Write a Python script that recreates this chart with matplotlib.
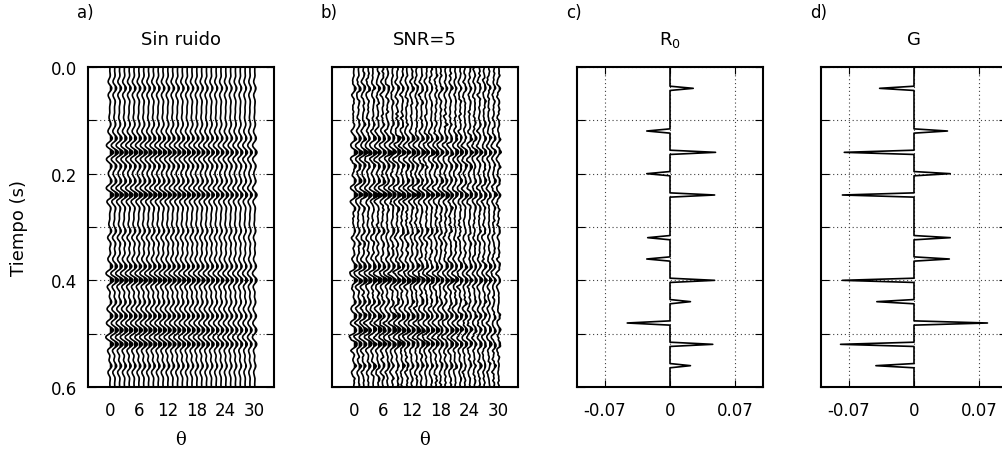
import numpy as np
import matplotlib
matplotlib.use("Agg")
import matplotlib.pyplot as plt

plt.rcParams['font.family'] = ['DejaVu Sans']
plt.rcParams['mathtext.fontset'] = 'dejavusans'

# sampling and angles
dt = 0.004
dt_fine = 0.001
t_max = 0.6
angles = np.arange(0, 31)  # degrees, one trace per degree

# reflectivity spikes read from panels c) and d)
spike_times = [0.04, 0.12, 0.16, 0.20, 0.24, 0.32, 0.36, 0.40, 0.44, 0.48, 0.52, 0.56]
r0_values = [0.025, -0.025, 0.049, -0.025, 0.048, -0.024, -0.025, 0.048, 0.022, -0.046, 0.046, 0.022]
g_values = [-0.037, 0.036, -0.075, 0.039, -0.077, 0.039, 0.038, -0.077, -0.040, 0.079, -0.079, -0.041]

angle_ticks = [0, 6, 12, 18, 24, 30]
time_ticks = [0.0, 0.1, 0.2, 0.3, 0.4, 0.5, 0.6]
time_labels = ['0.0', '', '0.2', '', '0.4', '', '0.6']
refl_ticks = [-0.07, 0, 0.07]
refl_labels = ['-0.07', '0', '0.07']
snr = 5


def spikes(values, step):
    tt = np.arange(0, t_max + step / 2, step)
    out = np.zeros_like(tt)
    for ts, v in zip(spike_times, values):
        out[int(round(ts / step))] = v
    return tt, out


t, r0 = spikes(r0_values, dt)
_, g = spikes(g_values, dt)
tf, r0f = spikes(r0_values, dt_fine)
_, gf = spikes(g_values, dt_fine)


# two-term AVO gather, convolved with a band-pass (Ormsby) wavelet
def ormsby(f1, f2, f3, f4, length=0.24):
    tw = np.arange(-length / 2, length / 2 + dt_fine / 2, dt_fine)
    def term(f):
        return np.pi * f ** 2 * np.sinc(f * tw) ** 2
    w = (term(f4) - term(f3)) / (f4 - f3) - (term(f2) - term(f1)) / (f2 - f1)
    return w / w.max()


wav = ormsby(18, 28, 45, 58)
s2 = np.sin(np.radians(angles)) ** 2
gather = np.array([np.convolve(r0f + gf * s, wav, mode='same') for s in s2])

# additive noise for the SNR panel, at the coarse sample rate
rng = np.random.default_rng(7)
noise_coarse = rng.normal(0, np.abs(gather).max() / snr / 1.4, (len(angles), len(t)))
noise = np.array([np.interp(tf, t, n) for n in noise_coarse])
gather_noisy = gather + noise

fig = plt.figure(figsize=(10.02, 4.52), dpi=100)
W, H = 1002.0, 452.0
lefts = [88, 332, 577, 821]
ax_w, top, bot = 186, 68, 388
axes = [fig.add_axes([l / W, 1 - bot / H, ax_w / W, (bot - top) / H]) for l in lefts]

grid_kw = dict(color='0.25', linestyle=(0, (1, 2.5)), linewidth=0.8)
scale = 17.0


def wiggle(ax, data):
    for th, tr in zip(angles, data):
        x = th + scale * tr
        ax.fill_betweenx(tf, th, x, where=tr > 0, color='k', lw=0, interpolate=True, zorder=3)
        ax.plot(x, tf, color='k', lw=1.2, zorder=3)
    ax.set_xlim(-4.5, 34)
    ax.set_xticks(angle_ticks)
    ax.set_xlabel('θ', family=['DejaVu Serif'], fontsize=13)
    ax.xaxis.set_label_coords(0.5, -(431 - bot) / (bot - top))
    ax.tick_params(axis='x', length=0, pad=10, labelsize=12)


wiggle(axes[0], gather)
wiggle(axes[1], gather_noisy)

for ax, r in zip(axes[2:], [r0, g]):
    ax.plot(r, t, color='k', lw=1.2, zorder=3)
    ax.set_xlim(-0.1, 0.1)
    ax.set_xticks(refl_ticks)
    ax.set_xticklabels(refl_labels)
    ax.tick_params(axis='x', direction='in', length=5, top=True, bottom=True, pad=10, labelsize=12)
    ax.grid(axis='x', **grid_kw)

for i, ax in enumerate(axes):
    ax.set_ylim(t_max, 0)
    ax.set_yticks(time_ticks)
    ax.grid(axis='y', **grid_kw)
    ax.set_axisbelow(True)
    ax.tick_params(axis='y', direction='in', length=6, left=True, right=True, labelsize=12, pad=8)
    if i == 0:
        ax.set_yticklabels(time_labels)
        ax.set_ylabel('Tiempo (s)', fontsize=13)
        ax.yaxis.set_label_coords(-(88 - 28) / ax_w, 0.5)
    else:
        ax.set_yticklabels([])
    for sp in ax.spines.values():
        sp.set_linewidth(1.5)

titles = ['Sin ruido', 'SNR=5', 'R$_0$', 'G']
letters = ['a)', 'b)', 'c)', 'd)']
for ax, l, ttl, let in zip(axes, lefts, titles, letters):
    ax.text(0.5, 1 + (top - 45) / (bot - top), ttl, transform=ax.transAxes,
            ha='center', va='baseline', fontsize=13)
    fig.text((l - 11) / W, 1 - 18 / H, let, ha='left', va='baseline', fontsize=12)

fig.savefig('out.png', dpi=100)
